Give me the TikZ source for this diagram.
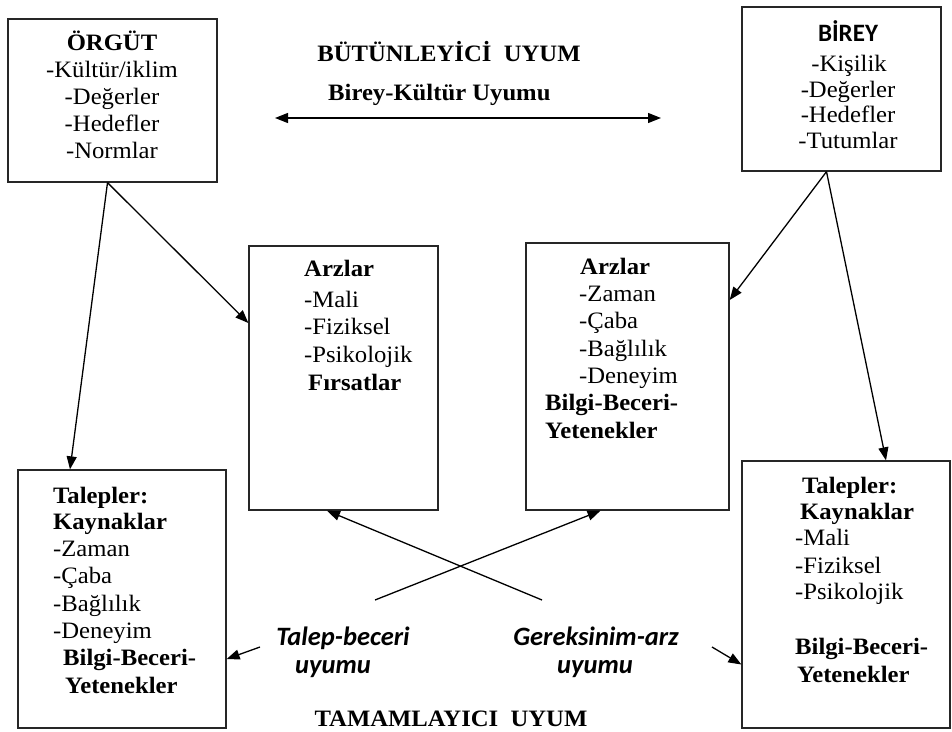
\documentclass[tikz,border=0pt]{standalone}
\usepackage{fontspec}
\setmainfont{Liberation Serif}[FakeStretch=1.05]
\newfontfamily\calib{Carlito}
\usetikzlibrary{arrows.meta,calc}
\tikzset{
  box/.style={draw=black!85, line width=1.3pt, inner sep=0pt, fill=none},
  tx/.style={inner sep=0pt, anchor=base west, font=\fontsize{23.5}{27}\selectfont},
  txc/.style={tx, anchor=base},
  bx/.style={tx, font=\fontsize{23.5}{27}\selectfont\bfseries},
  bxc/.style={bx, anchor=base},
  lbl/.style={inner sep=0pt, anchor=base, font=\fontsize{26.5}{28}\selectfont\calib\bfseries\itshape},
  arr/.style={line width=1.3pt, -{Triangle[length=13pt,width=10pt]}},
  ln/.style={line width=1.3pt},
}
\begin{document}
\begin{tikzpicture}[x=1pt,y=-1pt]
\path[use as bounding box] (0,0) rectangle (952,731);
% boxes
\node[box, minimum width=209pt, minimum height=163pt] (org) at (112.5,100.5) {};
\node[box, minimum width=199pt, minimum height=164pt] (bir) at (841.5,89) {};
\node[box, minimum width=189pt, minimum height=264pt] (arzl) at (343.5,378) {};
\node[box, minimum width=203pt, minimum height=267pt] (arzr) at (627.5,376.5) {};
\node[box, minimum width=208pt, minimum height=258pt] (tall) at (122,599) {};
\node[box, minimum width=208pt, minimum height=267pt] (talr) at (846,594.5) {};
% ORGUT text
\node[bxc] (o0) at (112,50) {ÖRGÜT};
\node[txc] (o1) at (112,77) {-Kültür/iklim};
\node[txc] (o2) at (112,104) {-Değerler};
\node[txc] (o3) at (112,131) {-Hedefler};
\node[txc] (o4) at (112,158) {-Normlar};
% BIREY text
\node[inner sep=0pt, anchor=base, font=\fontsize{25}{28}\selectfont\calib\bfseries] (b0) at (848,41) {BİREY};
\node[txc] (b1) at (849,71) {-Kişilik};
\node[txc] (b2) at (848,97) {-Değerler};
\node[txc] (b3) at (848,122) {-Hedefler};
\node[txc] (b4) at (848,148) {-Tutumlar};
% Arzlar left
\node[bx] (al0) at (304,276) {Arzlar};
\node[tx] (al1) at (304,307) {-Mali};
\node[tx] (al2) at (304,334) {-Fiziksel};
\node[tx] (al3) at (304,362) {-Psikolojik};
\node[bx] (al4) at (308,390) {Fırsatlar};
% Arzlar right
\node[bx] (ar0) at (580,274) {Arzlar};
\node[tx] (ar1) at (579,301) {-Zaman};
\node[tx] (ar2) at (579,328) {-Çaba};
\node[tx] (ar3) at (579,356) {-Bağlılık};
\node[tx] (ar4) at (579,383) {-Deneyim};
\node[bx] (ar5) at (545,410) {Bilgi-Beceri-};
\node[bx] (ar6) at (545,438) {Yetenekler};
% Talepler left
\node[bx] (tl0) at (53,503) {Talepler:};
\node[bx] (tl1) at (53,529) {Kaynaklar};
\node[tx] (tl2) at (53,556) {-Zaman};
\node[tx] (tl3) at (53,583) {-Çaba};
\node[tx] (tl4) at (53,611) {-Bağlılık};
\node[tx] (tl5) at (53,638) {-Deneyim};
\node[bx] (tl6) at (63,665) {Bilgi-Beceri-};
\node[bx] (tl7) at (65,693) {Yetenekler};
% Talepler right
\node[bx] (tr0) at (802,493) {Talepler:};
\node[bx] (tr1) at (800,519) {Kaynaklar};
\node[tx] (tr2) at (795,545) {-Mali};
\node[tx] (tr3) at (795,573) {-Fiziksel};
\node[tx] (tr4) at (795,599) {-Psikolojik};
\node[bx] (tr5) at (795,654) {Bilgi-Beceri-};
\node[bx] (tr6) at (797,682) {Yetenekler};
% titles
\node[bxc] (t1) at (449,61) {BÜTÜNLEYİCİ\ \ UYUM};
\node[bx] (t2) at (328,100) {Birey-Kültür Uyumu};
\node[bxc] (t3) at (451,726) {TAMAMLAYICI\ \ UYUM};
% italic labels
\node[lbl] (l1a) at (343,645) {Talep-beceri};
\node[lbl] (l1b) at (333,673) {uyumu};
\node[lbl] (l2a) at (596,645) {Gereksinim-arz};
\node[lbl] (l2b) at (595,673) {uyumu};
% coordinates
\coordinate (dl) at (275,118);
\coordinate (dr) at (661,118);
\coordinate (c1) at (375,600);
\coordinate (c2) at (542,600);
\coordinate (s1) at (260,647);
\coordinate (s2) at (712,647);
% connectors
\draw[line width=1.3pt, {Triangle[length=13pt,width=10pt]}-{Triangle[length=13pt,width=10pt]}] (dl) -- (dr);
\draw[arr] ([xshift=-5pt]org.south) -- ([yshift=55pt]arzl.west);
\draw[arr] ([xshift=-5pt]org.south) -- ([xshift=-52pt]tall.north);
\draw[arr] ([xshift=-15pt]bir.south) -- ([yshift=76.5pt]arzr.east);
\draw[arr] ([xshift=-15pt]bir.south) -- ([xshift=40pt]talr.north);
\draw[arr] (c1) -- ([xshift=-27pt]arzr.south);
\draw[arr] (c2) -- ([xshift=-16.5pt]arzl.south);
\draw[arr] (s1) -- ([yshift=-60pt]tall.east);
\draw[arr] (s2) -- ([yshift=-70pt]talr.west);
\end{tikzpicture}
\end{document}
